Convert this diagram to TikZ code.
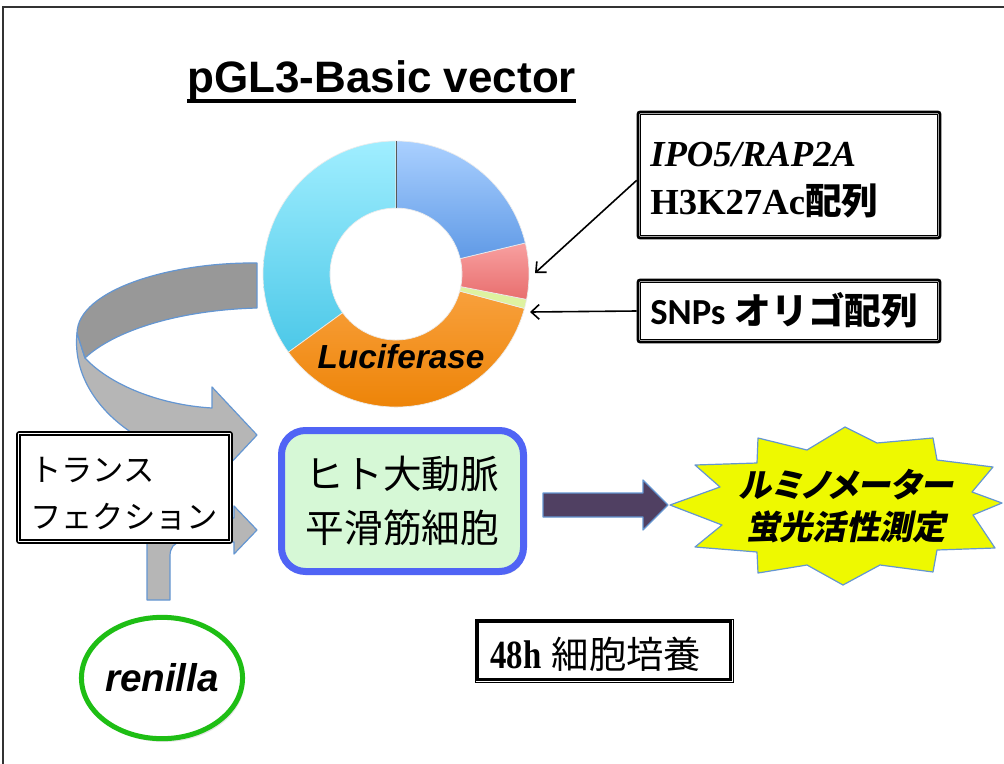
\documentclass[tikz,border=0pt]{standalone}
\usepackage{fontspec}
\setmainfont{Liberation Sans}
\newfontfamily\jpf{Noto Sans CJK JP}
\newfontfamily\jpsl{Noto Sans CJK JP}[FakeSlant=0.2,RawFeature=+palt]
\newfontfamily\ser{Liberation Serif}
\newfontfamily\carl{Carlito}
\usetikzlibrary{arrows.meta,shapes.geometric,shadows}
\definecolor{framecol}{RGB}{50,50,50}
\definecolor{bluetop}{RGB}{170,208,255}
\definecolor{bluebot}{RGB}{96,154,230}
\definecolor{pinktop}{RGB}{248,160,160}
\definecolor{pinkbot}{RGB}{232,110,110}
\definecolor{greenseg}{RGB}{222,242,160}
\definecolor{orangetop}{RGB}{248,160,60}
\definecolor{orangebot}{RGB}{236,128,0}
\definecolor{cyantop}{RGB}{160,238,255}
\definecolor{cyanbot}{RGB}{76,200,232}
\definecolor{ribdark}{RGB}{152,152,152}
\definecolor{riblight}{RGB}{182,182,182}
\definecolor{ribline}{RGB}{100,150,210}
\definecolor{cellblue}{RGB}{80,100,245}
\definecolor{cellgreen}{RGB}{214,248,214}
\definecolor{purplearrow}{RGB}{80,64,98}
\definecolor{burst}{RGB}{238,249,0}
\definecolor{rengreen}{RGB}{30,190,20}
\begin{document}
\begin{tikzpicture}[x=0.75pt,y=-0.75pt,
  dbox/.style={draw=black, line width=2pt, fill=white, inner sep=0pt, rounded corners=1.5pt},
  innerline/.style={draw=black, line width=0.7pt},
  ribbon/.style={draw=ribline, line width=0.9pt, line join=round},
  tharrow/.style={line width=1.2pt, -{Straight Barb[length=6pt,width=11pt]}},
  seg/.style={draw=white!85!gray, line width=0.5pt},
  txt/.style={anchor=base west, inner sep=0pt}]
\useasboundingbox (0,0) rectangle (1004,764);
\fill[white] (0,0) rectangle (1004,764);
% frame
\draw[framecol, line width=1.5pt] (3,780) -- (3,7) -- (1020,7);

% title
\node[txt, font=\bfseries\fontsize{33}{33}\selectfont] (title) at (187,92) {pGL3-Basic vector};
\draw[line width=2.3pt] ([shift={(0,9)}]title.base west) -- ([shift={(0,9)}]title.base east);

% donut
\begin{scope}[shift={(396,274)}, yscale=-1]
  \path[seg, top color=cyantop, bottom color=cyanbot] (90:133) arc[start angle=90,end angle=216,radius=133] -- (216:66) arc[start angle=216,end angle=90,radius=66] -- cycle;
  \path[seg, top color=orangetop, bottom color=orangebot] (216:133) arc[start angle=216,end angle=345,radius=133] -- (345:66) arc[start angle=345,end angle=216,radius=66] -- cycle;
  \path[seg, fill=greenseg] (345:133) arc[start angle=345,end angle=349,radius=133] -- (349:66) arc[start angle=349,end angle=345,radius=66] -- cycle;
  \path[seg, top color=pinktop, bottom color=pinkbot] (-11:133) arc[start angle=-11,end angle=13.5,radius=133] -- (13.5:66) arc[start angle=13.5,end angle=-11,radius=66] -- cycle;
  \path[seg, top color=bluetop, bottom color=bluebot] (13.5:133) arc[start angle=13.5,end angle=90,radius=133] -- (90:66) arc[start angle=90,end angle=13.5,radius=66] -- cycle;
  \draw[gray!70!black, line width=0.6pt] (90:66) -- (90:133);
\end{scope}
\node[font=\bfseries\itshape\fontsize{25}{25}\selectfont, inner sep=0pt] (luc) at (401,357) {Luciferase};

% right boxes
\node[dbox, minimum width=226.5pt, minimum height=94.5pt] (ipo) at (789,175) {};
\draw[innerline] ([shift={(4,4)}]ipo.north west) rectangle ([shift={(-4,-4)}]ipo.south east);
\node[txt, font=\ser\bfseries\itshape\fontsize{27.5}{30}\selectfont] (ipo1) at (650,166) {IPO5/RAP2A};
\node[txt, font=\fontsize{27.5}{30}\selectfont] (ipo2) at (650,214) {{\ser\bfseries H3K27Ac}{\jpf\bfseries 配列}};

\node[dbox, minimum width=226.5pt, minimum height=46.5pt] (snps) at (789,311) {};
\draw[innerline] ([shift={(4,4)}]snps.north west) rectangle ([shift={(-4,-4)}]snps.south east);
\node[txt, font=\fontsize{27.5}{30}\selectfont] (snpstext) at (650,324) {{\carl\bfseries SNPs}\hspace{7pt}{\jpf\bfseries オリゴ配列}};

\coordinate (tip1) at (535,273);
\coordinate (tip2) at (530,312);
\draw[tharrow] ([yshift=-4pt]ipo.west) -- (tip1);
\draw[tharrow] (snps.west) -- (tip2);

% curved gray ribbon arrow
\path[ribbon, fill=riblight] (77,333) .. controls (70,400) and (140,455) .. (212,460) -- (212,483) -- (257,435) -- (212,387) -- (212,408) .. controls (160,405) and (110,385) .. (85,358) -- cycle;
\path[ribbon, fill=ribdark] (257,263) .. controls (170,262) and (78,290) .. (77,333) -- (85,358) .. controls (115,330) and (180,310) .. (257,308) -- cycle;

% renilla arrow
\path[ribbon, fill=riblight] (147,600) -- (147,545) .. controls (147,528) and (152,518) .. (172,518) -- (234,518) -- (234,506) -- (257,530) -- (234,554) -- (234,542) -- (182,542) .. controls (174,542) and (170,548) .. (170,556) -- (170,600) -- cycle;

% transfection box
\node[dbox, line width=1.2pt, minimum width=161.25pt, minimum height=83.25pt] (trans) at (124.5,487.5) {};
\draw[line width=1.4pt] ([shift={(4,4)}]trans.north west) rectangle ([shift={(-4,-4)}]trans.south east);
\node[txt, font=\jpf\fontsize{23.5}{30}\selectfont] (trans1) at (30,481) {トランス};
\node[txt, font=\jpf\fontsize{23.5}{30}\selectfont] (trans2) at (30,528) {フェクション};

% cell box
\node[rectangle, rounded corners=18pt, draw=cellblue, line width=5.25pt, fill=cellgreen,
      minimum width=181.5pt, minimum height=105.75pt, text width=145pt, align=left,
      font=\jpf\fontsize{29}{41}\selectfont,
      drop shadow={shadow xshift=1.5pt, shadow yshift=-2.5pt, opacity=0.25}] (cell) at (402.5,501) {ヒト大動脈\\平滑筋細胞};

% purple arrow
\path[ribbon, fill=purplearrow] (543,493) -- (643,493) -- (643,480) -- (668,505) -- (643,530) -- (643,517) -- (543,517) -- cycle;

% starburst
\path[ribbon, fill=burst] (670,505) -- (720,487) -- (695,465) -- (757,463) -- (758,438) -- (807,450) -- (845,427) -- (877,443) -- (933,438) -- (937,460) -- (993,467) -- (972,492) -- (1002,503) -- (973,515) -- (995,548) -- (937,550) -- (933,572) -- (880,565) -- (843,585) -- (807,565) -- (758,573) -- (757,552) -- (695,547) -- (722,525) -- cycle;
\node[align=center, inner sep=0pt, font=\jpsl\bfseries\fontsize{25}{32}\selectfont] (lumi) at (846,506) {ルミノメーター\\蛍光活性測定};

% renilla
\node[ellipse, draw=rengreen, line width=3.75pt, fill=white, minimum width=119pt, minimum height=91pt, inner sep=0pt,
      font=\bfseries\itshape\fontsize{29}{29}\selectfont,
      drop shadow={shadow xshift=1.5pt, shadow yshift=-2.5pt, opacity=0.2}] (ren) at (162,678) {renilla};

% 48h box
\node[draw=black, line width=0.7pt, fill=white, minimum width=193.5pt, minimum height=47.25pt, inner sep=0pt] (h48) at (604,650.5) {};
\draw[line width=2pt] ([shift={(3,3)}]h48.north west) rectangle ([shift={(-3,-3)}]h48.south east);
\node[txt, font=\fontsize{28}{30}\selectfont] (h48text) at (490,668)
  {{\ser\bfseries\fontsize{30}{30}\selectfont\scalebox{0.82}[1]{48h}}\hspace{8pt}{\jpf 細胞培養}};
\end{tikzpicture}
\end{document}
